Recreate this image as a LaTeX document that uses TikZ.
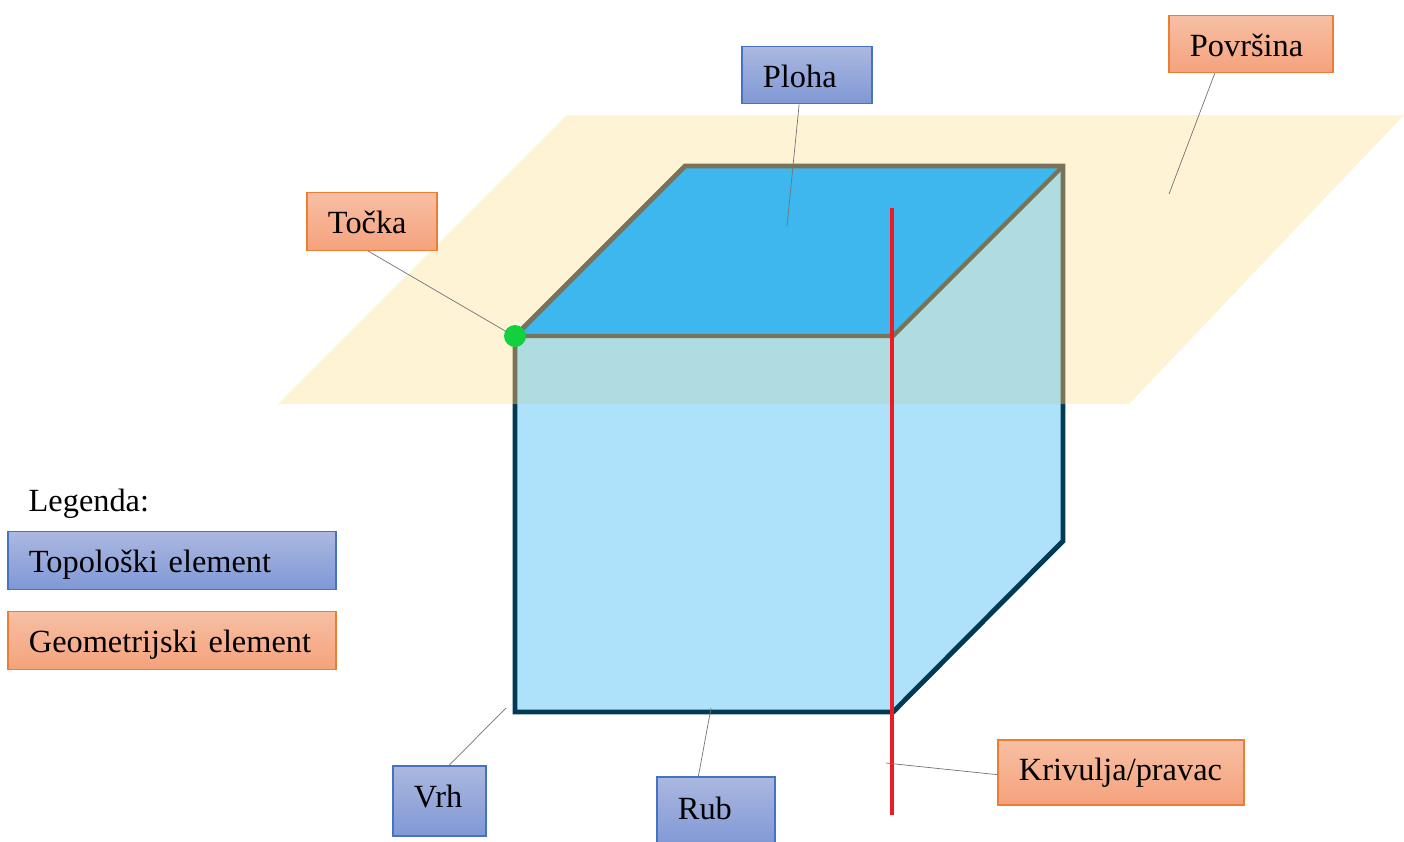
\documentclass[tikz,border=0pt]{standalone}
\usepackage{fontspec}
\setmainfont{Liberation Serif}
\usepackage{xcolor}
\definecolor{planecol}{HTML}{FFF3D6}
\definecolor{topcol}{HTML}{3DB7ED}
\definecolor{sidecol}{HTML}{AEE1FA}
\definecolor{mixcol}{HTML}{AEDCE0}
\definecolor{darkedge}{HTML}{003A55}
\definecolor{brownedge}{HTML}{7A7358}
\definecolor{curvecol}{HTML}{ED1C24}
\definecolor{dotcol}{HTML}{12D13F}
\definecolor{topoborder}{HTML}{4472C4}
\definecolor{topotop}{HTML}{ABB8E0}
\definecolor{topobottom}{HTML}{8098D5}
\definecolor{geomborder}{HTML}{ED7D31}
\definecolor{geomtop}{HTML}{F7BFA4}
\definecolor{geombottom}{HTML}{F5A27C}
\tikzset{
	label box/.style={rectangle, line width=0.35pt, inner xsep=0.21cm, inner ysep=0cm, align=left, minimum height=0.575cm, text height=0.24cm, text depth=0cm, font=\fontsize{9.2}{11}\selectfont, text=black},
	topo/.style={label box, draw=topoborder, top color=topotop, bottom color=topobottom},
	geom/.style={label box, draw=geomborder, top color=geomtop, bottom color=geombottom},
	leader/.style={-, line width=0.2pt, black!55},
}
\begin{document}
\begin{tikzpicture}[x=0.01cm, y=-0.01cm]
		\useasboundingbox (0,0) rectangle (1404,841);

		\coordinate (A) at (515,336);
		\coordinate (B) at (893,336);
		\coordinate (C) at (1063,166);
		\coordinate (D) at (685,166);
		\coordinate (E) at (515,712);
		\coordinate (F) at (893,712);
		\coordinate (G) at (1063,541);
		\coordinate (H) at (515,404);
		\coordinate (I) at (893,404);
		\coordinate (J) at (1063,404);

		\fill[planecol] (567,115)--(1404,115)--(1129,404)--(278,404)--cycle;

		\fill[sidecol] (H)--(J)--(G)--(F)--(E)--cycle;
		\fill[mixcol] (A)--(B)--(C)--(J)--(H)--cycle;
		\fill[topcol] (A)--(D)--(C)--(B)--cycle;

		\draw[-, darkedge, line width=1.4pt, line join=miter] (H)--(E)--(F)--(G)--(J);
		\draw[-, brownedge, line width=1.4pt, line join=miter] (H)--(A)--(D)--(C)--(J);
		\draw[-, brownedge, line width=1.2pt] (A)--(B)--(C);

		\coordinate (curvetop) at (892,208);
		\coordinate (curvebottom) at (892,815);
		\draw[-, curvecol, line width=1.4pt] (curvetop)--(curvebottom);
		\fill[dotcol] (A) circle (11);

		\node[topo, text width=0.88cm] (ploha) at (807,75) {Ploha};
		\node[geom, text width=1.22cm] (povrsina) at (1251,44) {Površina};
		\node[geom, text width=0.88cm] (tocka) at (372,221.5) {Točka};
		\node[topo, text width=0.51cm, text depth=0.12cm, minimum height=0.7cm] (vrh) at (439.5,801) {Vrh};
		\node[topo, text width=0.76cm, text depth=0.08cm, minimum height=0.68cm] (rub) at (716,811) {Rub};
		\node[geom, text width=2.04cm, text depth=0.09cm, minimum height=0.65cm] (krivulja) at (1121,772.5) {Krivulja/pravac};

		\node[anchor=base west, inner sep=0, font=\fontsize{9.2}{11}\selectfont] (legenda) at (28,511) {Legenda:};
		\node[topo, text width=2.86cm] (legendtopo) at (172,560.5) {Topološki element};
		\node[geom, text width=2.86cm] (legendgeom) at (172,640.5) {Geometrijski element};

		\coordinate (plohaend) at (787,226);
		\coordinate (povrsinaend) at (1169,194);
		\coordinate (tockaend) at (507,332);
		\coordinate (vrhend) at (506,708);
		\coordinate (rubend) at (711,708);
		\coordinate (krivuljaend) at (886,763);

		\draw[leader] (ploha.255)--(plohaend);
		\draw[leader] (povrsina.219)--(povrsinaend);
		\draw[leader] (tocka.262)--(tockaend);
		\draw[leader] (vrh.75)--(vrhend);
		\draw[leader] (rub.117)--(rubend);
		\draw[leader] (krivulja.181)--(krivuljaend);

	\end{tikzpicture}
\end{document}
